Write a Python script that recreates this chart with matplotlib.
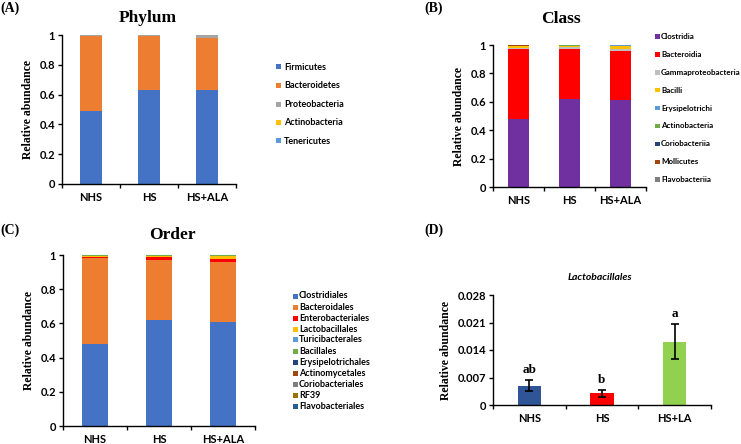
import matplotlib
matplotlib.use("Agg")
import matplotlib.pyplot as plt
from matplotlib.patches import Rectangle
import numpy as np

groups = ["NHS", "HS", "HS+ALA"]

phylum_names = ["Firmicutes", "Bacteroidetes", "Proteobacteria", "Actinobacteria", "Tenericutes"]
phylum_vals = [
    [0.49, 0.63, 0.63],
    [0.50, 0.36, 0.35],
    [0.008, 0.008, 0.018],
    [0.001, 0.001, 0.001],
    [0.001, 0.001, 0.001],
]
phylum_colors = ["#4472C4", "#ED7D31", "#A5A5A5", "#FFC000", "#5B9BD5"]

class_names = ["Clostridia", "Bacteroidia", "Gammaproteobacteria", "Bacilli", "Erysipelotrichi",
               "Actinobacteria", "Coriobacteriia", "Mollicutes", "Flavobacteriia"]
class_vals = [
    [0.48, 0.62, 0.61],
    [0.495, 0.35, 0.35],
    [0.007, 0.018, 0.014],
    [0.01, 0.006, 0.022],
    [0.002, 0.002, 0.002],
    [0.001, 0.001, 0.001],
    [0.001, 0.001, 0.001],
    [0.001, 0.001, 0.001],
    [0.001, 0.001, 0.001],
]
class_colors = ["#7030A0", "#FF0000", "#BFBFBF", "#FFC000", "#5B9BD5",
                "#70AD47", "#264478", "#9E480E", "#7F7F7F"]

order_names = ["Clostridiales", "Bacteroidales", "Enterobacteriales", "Lactobacillales",
               "Turicibacterales", "Bacillales", "Erysipelotrichales", "Actinomycetales",
               "Coriobacteriales", "RF39", "Flavobacteriales"]
order_vals = [
    [0.48, 0.62, 0.61],
    [0.50, 0.35, 0.35],
    [0.007, 0.02, 0.018],
    [0.005, 0.003, 0.016],
    [0.003, 0.002, 0.002],
    [0.003, 0.004, 0.002],
    [0.001, 0.001, 0.001],
    [0.0005, 0.0005, 0.0005],
    [0.0005, 0.0005, 0.0005],
    [0.0005, 0.0005, 0.0005],
    [0.0005, 0.0005, 0.0005],
]
order_colors = ["#4472C4", "#ED7D31", "#FF0000", "#FFC000", "#5B9BD5", "#70AD47",
                "#264478", "#9E480E", "#7F7F7F", "#997300", "#255E91"]

lacto_groups = ["NHS", "HS", "HS+LA"]
lacto_vals = [0.0049, 0.0030, 0.0161]
lacto_err = [0.0014, 0.0009, 0.0044]
lacto_letters = ["ab", "b", "a"]
lacto_colors = ["#2F5597", "#FF0000", "#92D050"]

W, H = 741, 444
fig = plt.figure(figsize=(W / 100, H / 100), dpi=100)

SANS = ["Lato", "DejaVu Sans"]
SERIF = ["Liberation Serif", "DejaVu Serif"]


def add_ax(x0, x1, y_top, y_bot):
    return fig.add_axes([x0 / W, 1 - y_bot / H, (x1 - x0) / W, (y_bot - y_top) / H])


def style_axis(ax, ncat, yticks, ylabels):
    ax.set_xlim(-0.5, ncat - 0.5)
    ax.set_ylim(yticks[0], yticks[-1])
    for s in ["top", "right"]:
        ax.spines[s].set_visible(False)
    for s in ["left", "bottom"]:
        ax.spines[s].set_linewidth(1.0)
        ax.spines[s].set_color("black")
    ax.set_yticks(yticks)
    ax.set_yticklabels(ylabels, fontfamily=SANS, fontweight="bold", fontsize=8)
    ax.tick_params(axis="y", direction="out", length=3, width=1, pad=2)
    ax.set_xticks(np.arange(ncat))
    ax.tick_params(axis="x", which="major", length=0, pad=6)
    ax.set_xticks(np.arange(-0.5, ncat), minor=True)
    ax.tick_params(axis="x", which="minor", direction="out", length=3, width=1)
    ax.set_ylabel("Relative abundance", fontfamily=SERIF, fontweight="bold", fontsize=8.5, labelpad=4)


def stacked(ax, names, vals, colors, width):
    x = np.arange(len(groups))
    bottom = np.zeros(len(groups))
    for n, v, c in zip(names, vals, colors):
        v = np.array(v)
        ax.bar(x, v, width, bottom=bottom, color=c, label=n, linewidth=0)
        bottom += v
    ax.set_xticklabels(groups, fontfamily=SANS, fontweight="bold", fontsize=8)


def legend(names, colors, mx, tx, y0, step, size, fs):
    for i, (n, c) in enumerate(zip(names, colors)):
        yc = y0 + i * step
        fig.patches.append(Rectangle((mx / W, 1 - (yc + size / 2) / H), size / W, size / H,
                                     transform=fig.transFigure, facecolor=c, edgecolor="none"))
        fig.text(tx / W, 1 - yc / H, n, ha="left", va="center", fontfamily=SANS,
                 fontweight="bold", fontsize=fs)


yt = [0, 0.2, 0.4, 0.6, 0.8, 1.0]
ytl = ["0", "0.2", "0.4", "0.6", "0.8", "1"]

# Panel A
axA = add_ax(62, 236, 35, 184)
stacked(axA, phylum_names, phylum_vals, phylum_colors, 0.38)
style_axis(axA, 3, yt, ytl)
fig.text(148 / W, 1 - 18 / H, "Phylum", ha="center", va="center", fontfamily=SERIF,
         fontweight="bold", fontsize=12.5)
fig.text(0, 1 - 8 / H, "(A)", ha="left", va="center", fontfamily=SERIF, fontweight="bold", fontsize=10)
legend(phylum_names, phylum_colors, 276, 284, 67, 18.5, 5, 6.5)

# Panel B
axB = add_ax(493, 646, 45, 187)
stacked(axB, class_names, class_vals, class_colors, 0.40)
style_axis(axB, 3, yt, ytl)
fig.text(561 / W, 1 - 19 / H, "Class", ha="center", va="center", fontfamily=SERIF,
         fontweight="bold", fontsize=12.5)
fig.text(424 / W, 1 - 8 / H, "(B)", ha="left", va="center", fontfamily=SERIF, fontweight="bold", fontsize=10)
legend(class_names, class_colors, 655, 661, 36.5, 17.9, 4.5, 5.8)

# Panel C
axC = add_ax(63, 255, 255, 426)
stacked(axC, order_names, order_vals, order_colors, 0.40)
style_axis(axC, 3, yt, ytl)
fig.text(172 / W, 1 - 235 / H, "Order", ha="center", va="center", fontfamily=SERIF,
         fontweight="bold", fontsize=12.5)
fig.text(0, 1 - 230 / H, "(C)", ha="left", va="center", fontfamily=SERIF, fontweight="bold", fontsize=10)
legend(order_names, order_colors, 293, 299, 296, 11, 5, 6.5)

# Panel D
axD = add_ax(493, 711, 295, 405)
xd = np.arange(len(lacto_groups))
axD.bar(xd, lacto_vals, 0.32, color=lacto_colors, linewidth=0)
axD.errorbar(xd, lacto_vals, yerr=lacto_err, fmt="none", ecolor="black", elinewidth=1.2,
             capsize=3, capthick=1.2)
style_axis(axD, 3, [0, 0.007, 0.014, 0.021, 0.028], ["0", "0.007", "0.014", "0.021", "0.028"])
axD.set_xticklabels(lacto_groups, fontfamily=SANS, fontweight="bold", fontsize=8)
for xi, v, e, t in zip(xd, lacto_vals, lacto_err, lacto_letters):
    axD.annotate(t, (xi, v + e), xytext=(0, 3), textcoords="offset points", ha="center",
                 va="bottom", fontfamily=SERIF, fontweight="bold", fontsize=9.5)
fig.text(600 / W, 1 - 277 / H, "Lactobacillales", ha="center", va="center", fontfamily=SANS,
         fontweight="bold", fontstyle="italic", fontsize=7.5)
fig.text(424 / W, 1 - 230 / H, "(D)", ha="left", va="center", fontfamily=SERIF, fontweight="bold", fontsize=10)

fig.savefig("out.png", dpi=100)
